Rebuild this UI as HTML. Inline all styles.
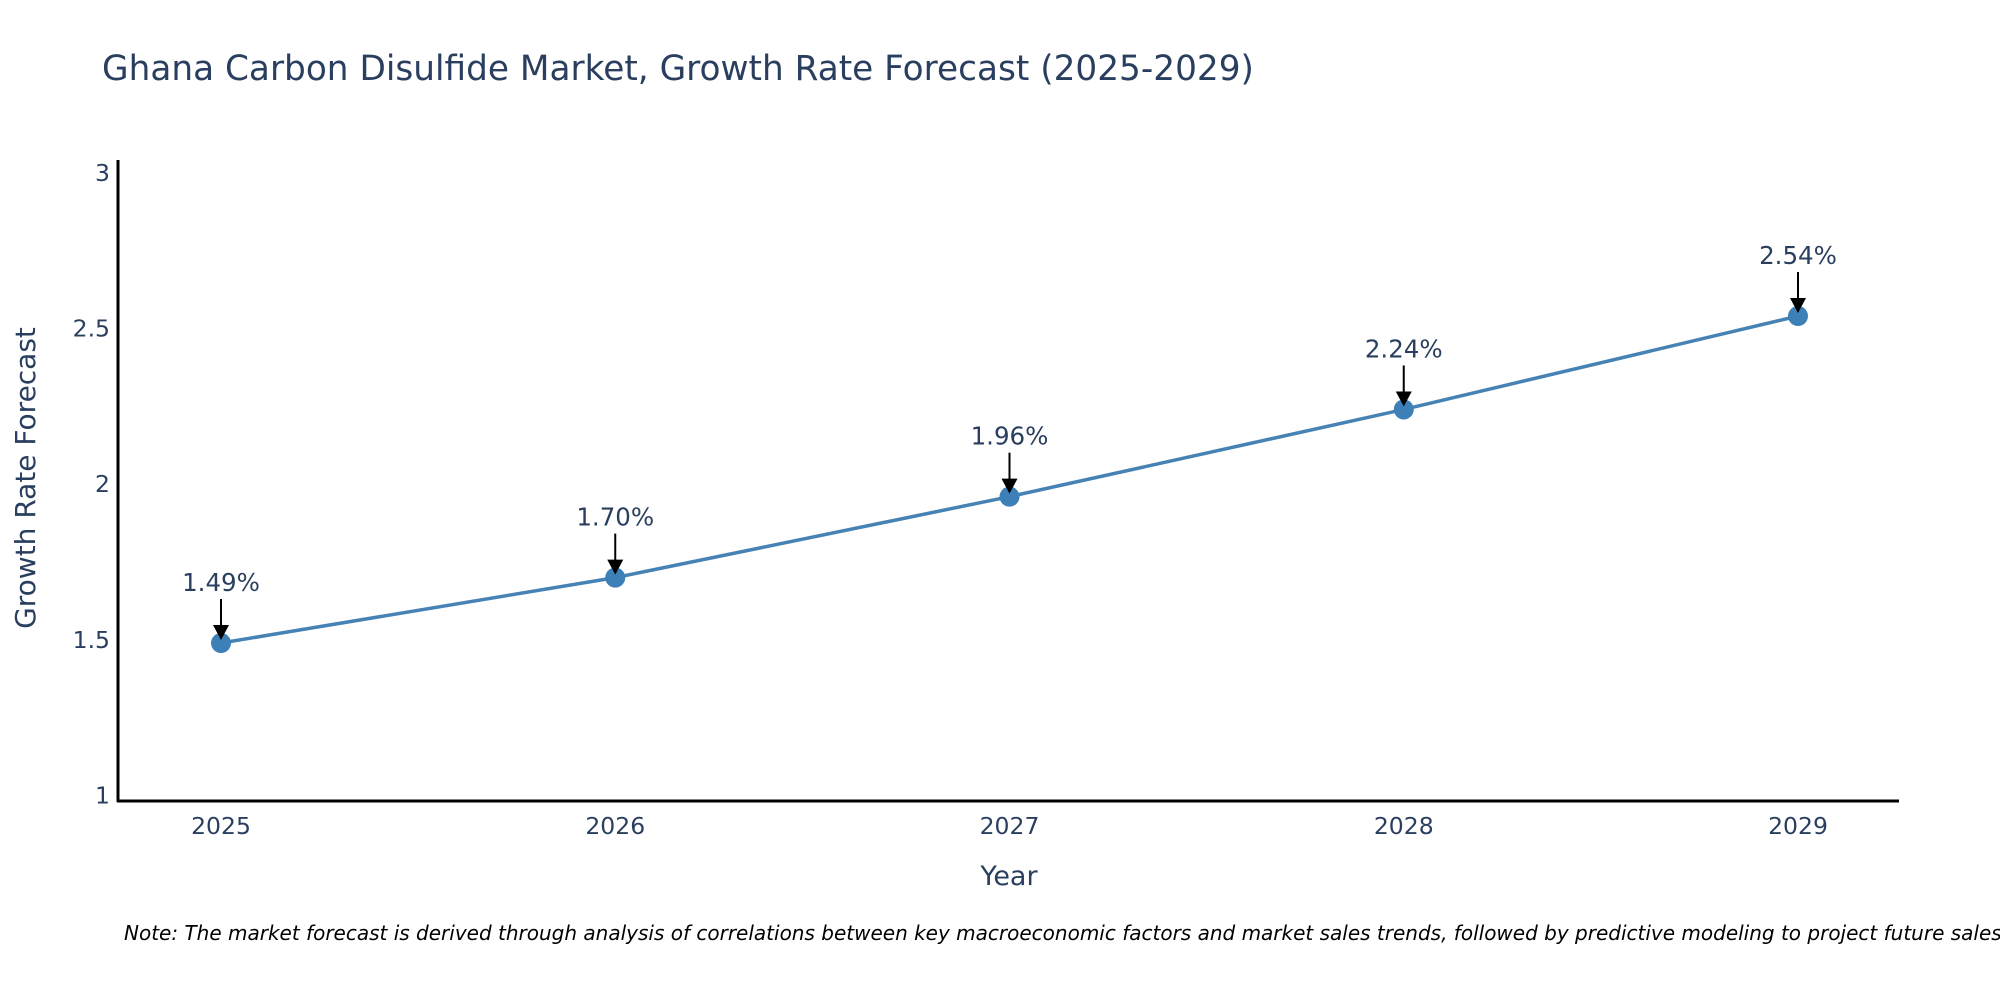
<!DOCTYPE html>
<html><head><meta charset="utf-8"><style>
html,body{margin:0;padding:0;background:#fff;}
svg{display:block;font-family:"DejaVu Sans","Liberation Sans",sans-serif;}
</style></head><body>
<svg id="chart" width="2000" height="1000" viewBox="0 0 2000 1000">
<text x="102" y="80" font-size="34.3" fill="#2a3f5f">Ghana Carbon Disulfide Market, Growth Rate Forecast (2025-2029)</text>
<g id="yticks"></g>
<g id="xticks"></g>
<line x1="118" y1="160" x2="118" y2="802" stroke="#000" stroke-width="3"/>
<line x1="117" y1="801" x2="1899" y2="801" stroke="#000" stroke-width="3"/>
<g id="series"></g>
<g id="annots"></g>
<text x="1009" y="885" font-size="27" fill="#2a3f5f" text-anchor="middle">Year</text>
<text transform="translate(35,478) rotate(-90)" font-size="28" fill="#2a3f5f" text-anchor="middle">Growth Rate Forecast</text>
<text x="124" y="940" font-size="20" font-style="italic" fill="#000">Note: The market forecast is derived through analysis of correlations between key macroeconomic factors and market sales trends, followed by predictive modeling to project future sales.</text>
</svg>
<script>
const years = ["2025","2026","2027","2028","2029"];
const rates = [1.49, 1.70, 1.96, 2.24, 2.54];
const valueLabels = ["1.49%","1.70%","1.96%","2.24%","2.54%"];
const yTickValues = [1, 1.5, 2, 2.5, 3];
const yTickLabels = ["1","1.5","2","2.5","3"];

const NS = "http://www.w3.org/2000/svg";
const X0 = 221, XSTEP = (1798-221)/4;
const Y0 = 795.6, YUNIT = 311.4;
function xPos(i){ return X0 + i*XSTEP; }
function yPos(v){ return Y0 - (v-1)*YUNIT; }
function mk(tag, attrs, parent){ const e=document.createElementNS(NS,tag); for(const k in attrs) e.setAttribute(k,attrs[k]); parent.appendChild(e); return e; }

const yt = document.getElementById('yticks');
yTickValues.forEach((v,i)=>{
  const t = mk('text',{x:110,y:yPos(v)+8,'font-size':23.5,fill:'#2a3f5f','text-anchor':'end'},yt);
  
  
  t.textContent = yTickLabels[i];
});
const xt = document.getElementById('xticks');
years.forEach((y,i)=>{
  const t = mk('text',{x:xPos(i),y:834,'font-size':23.5,fill:'#2a3f5f','text-anchor':'middle'},xt);
  
  
  t.textContent = y;
});
const s = document.getElementById('series');
const pts = rates.map((r,i)=>xPos(i)+','+yPos(r)).join(' ');
const pl = mk('polyline',{points:pts,fill:'none',stroke:'#4682b4','stroke-width':3.5},s);


rates.forEach((r,i)=>{
  const c = mk('circle',{cx:xPos(i),cy:yPos(r),r:10,fill:'#3d80b8'},s);
  
  
});
const a = document.getElementById('annots');
rates.forEach((r,i)=>{
  const x=xPos(i), y=yPos(r);
  const ln = mk('line',{x1:x,y1:y-44,x2:x,y2:y-16,stroke:'#000','stroke-width':2},a);
  
  
  const hd = mk('polygon',{points:(x-8)+','+(y-18)+' '+(x+8)+','+(y-18)+' '+x+','+(y-3),fill:'#000'},a);
  
  
  const t = mk('text',{x:x,y:y-52,'font-size':24.5,fill:'#2a3f5f','text-anchor':'middle'},a);
  
  
  t.textContent = valueLabels[i];
});
</script>
</body></html>
